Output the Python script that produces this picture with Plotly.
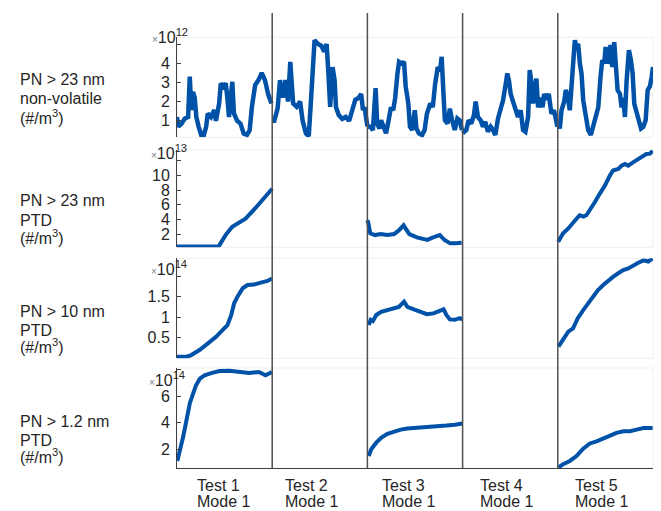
import plotly.graph_objects as go

# ---------------- data (fraction within test window, value) ----------------
tests = ["Test 1", "Test 2", "Test 3", "Test 4", "Test 5"]
modes = ["Mode 1", "Mode 1", "Mode 1", "Mode 1", "Mode 1"]
row_labels = [
    ["PN > 23 nm", "non-volatile", "(#/m<sup>3</sup>)"],
    ["PN > 23 nm", "PTD", "(#/m<sup>3</sup>)"],
    ["PN > 10 nm", "PTD", "(#/m<sup>3</sup>)"],
    ["PN > 1.2 nm", "PTD", "(#/m<sup>3</sup>)"],
]
exponents = ["12", "13", "14", "14"]

# Row 1: PN > 23 nm non-volatile (x1e12)
nv_t1_f = [0, 0.014, 0.048, 0.082, 0.117, 0.134, 0.151, 0.168, 0.186, 0.203, 0.227, 0.254, 0.282, 0.306, 0.323,
           0.357, 0.392, 0.409, 0.443, 0.46, 0.488, 0.512, 0.529, 0.546, 0.564, 0.581, 0.598, 0.632, 0.667, 0.701,
           0.735, 0.763, 0.787, 0.821, 0.856, 0.89, 0.924, 0.959, 0.993]
nv_t1_v = [1.2, 0.69, 0.85, 1.12, 1.2, 3.3, 1.56, 2.5, 2.2, 1.2, 0.7, 0.26, 0.26, 0.69, 1.38, 1.2, 1.56, 1.0,
           1.9, 2.95, 2.78, 2.95, 2.2, 1.2, 2.2, 3.03, 1.38, 1.0, 0.85, 0.33, 0.26, 0.5, 1.73, 2.86, 3.12, 3.5,
           3.12, 2.35, 1.9]
nv_t2_f = [0.004, 0.022, 0.057, 0.082, 0.11, 0.14, 0.166, 0.19, 0.22, 0.257, 0.293, 0.32, 0.355, 0.384, 0.409,
           0.445, 0.482, 0.518, 0.547, 0.572, 0.59, 0.609, 0.634, 0.656, 0.67, 0.699, 0.736, 0.772, 0.808, 0.837,
           0.873, 0.91, 0.935, 0.953, 0.971, 1.0]
nv_t2_v = [1.0, 1.0, 1.65, 3.12, 2.2, 3.12, 2.0, 4.07, 1.9, 1.73, 2.0, 1.0, 0.33, 0.2, 2.2, 5.2, 5.0, 4.9, 4.6,
           5.0, 3.5, 1.73, 3.8, 3.1, 1.7, 1.3, 1.1, 1.2, 1.0, 1.56, 2.1, 2.2, 2.4, 1.56, 1.7, 0.7]
nv_t3_f = [0.007, 0.031, 0.058, 0.086, 0.103, 0.127, 0.144, 0.168, 0.196, 0.223, 0.247, 0.271, 0.292, 0.316,
           0.333, 0.361, 0.385, 0.402, 0.43, 0.447, 0.471, 0.498, 0.515, 0.54, 0.574, 0.601, 0.625, 0.66, 0.687,
           0.711, 0.739, 0.763, 0.78, 0.797, 0.814, 0.842, 0.866, 0.89, 0.918, 0.945, 0.969, 0.993]
nv_t3_v = [0.69, 0.69, 0.52, 2.7, 0.86, 0.6, 1.03, 0.69, 0.35, 1.03, 1.7, 1.55, 2.2, 3.47, 4.07, 3.98, 4.07, 2.8,
           1.9, 0.69, 0.52, 1.55, 0.6, 0.35, 0.26, 0.52, 1.37, 1.9, 1.72, 2.9, 3.8, 3.6, 4.33, 2.6, 1.03, 0.86,
           1.63, 1.03, 0.52, 1.12, 1.03, 0.52]
nv_t4_f = [0.0, 0.039, 0.063, 0.091, 0.119, 0.137, 0.161, 0.189, 0.214, 0.238, 0.266, 0.295, 0.319, 0.344, 0.372,
           0.4, 0.425, 0.449, 0.47, 0.488, 0.505, 0.53, 0.554, 0.582, 0.61, 0.635, 0.66, 0.688, 0.705, 0.723, 0.74,
           0.758, 0.775, 0.793, 0.82, 0.84, 0.856, 0.88, 0.905, 0.933, 0.96, 0.996]
nv_t4_v = [0.35, 0.52, 1.03, 0.86, 1.29, 2.0, 1.2, 1.03, 0.69, 0.95, 0.43, 0.69, 0.52, 0.26, 1.12, 1.55, 2.07,
           2.8, 3.47, 3.05, 2.4, 2.0, 1.7, 1.2, 1.55, 0.52, 0.43, 1.2, 3.64, 3.0, 1.9, 2.8, 3.2, 1.7, 2.2, 1.7,
           2.4, 2.1, 2.4, 1.37, 1.55, 0.69]
nv_t5_f = [0.004, 0.021, 0.039, 0.067, 0.084, 0.1, 0.126, 0.144, 0.161, 0.179, 0.196, 0.214, 0.232, 0.249, 0.267,
           0.284, 0.302, 0.319, 0.347, 0.372, 0.396, 0.425, 0.449, 0.467, 0.488, 0.502, 0.52, 0.537, 0.554, 0.572,
           0.593, 0.61, 0.628, 0.653, 0.67, 0.688, 0.705, 0.723, 0.747, 0.768, 0.786, 0.803, 0.821, 0.846, 0.874,
           0.898, 0.923, 0.944, 0.968, 0.986, 1.0]
nv_t5_v = [0.95, 0.6, 1.55, 2.0, 2.6, 2.4, 1.55, 2.95, 4.16, 5.2, 4.85, 5.0, 3.98, 3.47, 2.07, 1.55, 0.86, 0.52,
           0.26, 0.69, 1.03, 1.7, 3.29, 4.16, 3.98, 4.85, 3.98, 4.33, 4.95, 3.8, 5.1, 3.98, 2.6, 2.4, 1.7, 2.2,
           1.2, 3.1, 4.68, 4.16, 3.47, 1.9, 1.55, 1.03, 0.6, 0.69, 1.03, 2.6, 2.8, 3.29, 3.8]

# Row 2: PN > 23 nm PTD (x1e13)
p23_t1_f = [0, 0.1, 0.2, 0.3, 0.44, 0.47, 0.51, 0.58, 0.65, 0.72, 0.82, 0.92, 0.99, 1.0]
p23_t1_v = [0.3, 0.3, 0.25, 0.3, 0.35, 1.0, 1.86, 3.0, 3.5, 4.1, 5.5, 7.05, 8.0, 8.2]
p23_t3_f = [0.0, 0.01, 0.03, 0.08, 0.14, 0.21, 0.28, 0.33, 0.38, 0.44, 0.52, 0.63, 0.69, 0.76, 0.81, 0.87, 0.93, 0.99]
p23_t3_v = [3.9, 3.5, 2.1, 1.86, 2.0, 1.86, 2.0, 2.5, 3.2, 2.0, 1.55, 1.2, 1.55, 1.86, 1.2, 0.73, 0.73, 0.8]
p23_t5_f = [0.004, 0.056, 0.11, 0.16, 0.196, 0.23, 0.27, 0.3, 0.337, 0.39, 0.44, 0.495, 0.547, 0.58, 0.635, 0.67,
            0.705, 0.74, 0.79, 0.846, 0.9, 0.93, 0.968, 0.997]
p23_t5_v = [0.95, 2.1, 2.77, 3.66, 4.1, 4.57, 4.4, 4.57, 5.25, 6.38, 7.5, 8.64, 10.0, 10.7, 10.9, 11.36, 11.6,
            11.36, 11.8, 12.27, 12.7, 12.95, 13.0, 13.4]

# Row 3: PN > 10 nm PTD (x1e14)
p10_t1_f = [0.0, 0.1, 0.15, 0.24, 0.325, 0.41, 0.48, 0.53, 0.57, 0.6, 0.635, 0.69, 0.74, 0.81, 0.88, 0.95, 0.998]
p10_t1_v = [0.02, 0.02, 0.06, 0.19, 0.35, 0.51, 0.68, 0.8, 1.05, 1.34, 1.5, 1.71, 1.79, 1.8, 1.85, 1.89, 1.95]
p10_t3_f = [0.014, 0.034, 0.058, 0.093, 0.144, 0.21, 0.28, 0.33, 0.385, 0.42, 0.488, 0.557, 0.625, 0.694, 0.746,
            0.8, 0.83, 0.866, 0.918, 0.97, 0.997]
p10_t3_v = [0.8, 0.93, 0.9, 1.05, 1.13, 1.17, 1.21, 1.25, 1.38, 1.25, 1.19, 1.13, 1.07, 1.09, 1.13, 1.19, 1.05,
            0.94, 0.93, 0.97, 0.94]
p10_t5_f = [0.007, 0.056, 0.11, 0.16, 0.21, 0.267, 0.32, 0.37, 0.42, 0.477, 0.53, 0.58, 0.635, 0.688, 0.74, 0.793,
            0.846, 0.9, 0.95, 0.996]
p10_t5_v = [0.27, 0.43, 0.64, 0.72, 0.97, 1.17, 1.34, 1.5, 1.66, 1.79, 1.91, 1.99, 2.08, 2.16, 2.2, 2.28, 2.34,
            2.4, 2.37, 2.45]

# Row 4: PN > 1.2 nm PTD (x1e14)
p12_t1_f = [0.003, 0.03, 0.066, 0.1, 0.135, 0.17, 0.2, 0.24, 0.29, 0.36, 0.445, 0.55, 0.65, 0.757, 0.86, 0.93, 0.998]
p12_t1_v = [1.13, 1.87, 2.98, 4.2, 5.46, 6.2, 6.8, 7.3, 7.55, 7.72, 7.87, 7.9, 7.8, 7.72, 7.8, 7.55, 7.8]
p12_t3_f = [0.014, 0.04, 0.093, 0.144, 0.21, 0.28, 0.35, 0.42, 0.52, 0.625, 0.73, 0.83, 0.918, 0.997]
p12_t3_v = [1.5, 2.0, 2.5, 2.87, 3.16, 3.36, 3.48, 3.56, 3.6, 3.63, 3.73, 3.78, 3.85, 3.93]
p12_t5_f = [0.007, 0.056, 0.126, 0.196, 0.267, 0.337, 0.407, 0.477, 0.547, 0.617, 0.688, 0.758, 0.828, 0.9, 0.996]
p12_t5_v = [0.64, 0.89, 1.13, 1.5, 2.05, 2.44, 2.6, 2.8, 3.04, 3.24, 3.36, 3.36, 3.48, 3.6, 3.6]

row_series = [
    [(0, nv_t1_f, nv_t1_v), (1, nv_t2_f, nv_t2_v), (2, nv_t3_f, nv_t3_v), (3, nv_t4_f, nv_t4_v), (4, nv_t5_f, nv_t5_v)],
    [(0, p23_t1_f, p23_t1_v), (2, p23_t3_f, p23_t3_v), (4, p23_t5_f, p23_t5_v)],
    [(0, p10_t1_f, p10_t1_v), (2, p10_t3_f, p10_t3_v), (4, p10_t5_f, p10_t5_v)],
    [(0, p12_t1_f, p12_t1_v), (2, p12_t3_f, p12_t3_v), (4, p12_t5_f, p12_t5_v)],
]
y_ranges = [[0.14, 5.35], [0.19, 13.5], [-0.02, 2.45], [0.6, 8.1]]
y_tickvals = [[1, 2, 3, 4, 5], [2, 4, 6, 8, 10, 12], [0.5, 1, 1.5, 2], [2, 4, 6, 8]]
y_ticktext = [["1", "2", "3", "4", ""], ["2", "4", "6", "8", "10", ""], ["0.5", "1", "1.5", ""], ["2", "4", "6", ""]]

# ---------------- layout geometry (pixels) ----------------
W, H = 661, 511
PL, PR, PT, PB = 177, 653, 37, 468
BLUE = "#0052a8"
TXT = "#262626"
FONT = "Liberation Sans, Arial, sans-serif"
FS = 16
row_line_width = [4.5, 4, 4, 4]


def pyp(p):
    return (PB - p) / (PB - PT)


def pxp(p):
    return (p - PL) / (PR - PL)


row_px = [(37.3, 137.3), (150, 247.3), (258.3, 358.3), (368, 468)]

fig = go.Figure()
for r, series in enumerate(row_series):
    ax = "" if r == 0 else str(r + 1)
    for (ti, fr, vals) in series:
        fig.add_trace(go.Scatter(
            x=[ti + f for f in fr], y=vals, mode="lines",
            line=dict(color=BLUE, width=row_line_width[r]), xaxis="x" + ax, yaxis="y" + ax,
            showlegend=False, hoverinfo="skip"))

layout = dict(
    width=W, height=H, paper_bgcolor="white", plot_bgcolor="white",
    margin=dict(l=PL, r=W - PR, t=PT, b=H - PB, autoexpand=False),
    font=dict(family=FONT, color=TXT, size=FS),
)
shapes = []
annotations = []
for r in range(4):
    ax = "" if r == 0 else str(r + 1)
    top, bot = row_px[r]
    layout["xaxis" + ax] = dict(
        domain=[0, 1], range=[0, 5], anchor="y" + ax, showticklabels=False, ticks="",
        showgrid=False, zeroline=False, automargin=False,
        showline=(r == 3), linecolor="#404040", linewidth=1)
    layout["yaxis" + ax] = dict(
        domain=[max(0, pyp(bot)), min(1, pyp(top))], range=y_ranges[r], anchor="x" + ax,
        tickvals=y_tickvals[r], ticktext=y_ticktext[r], ticks="inside", ticklen=4,
        tickcolor="#404040", showgrid=False, zeroline=False, showline=True, automargin=False,
        linecolor="#404040", linewidth=1, tickfont=dict(size=FS, color=TXT, family=FONT),
        ticklabelstandoff=3)
    # faint axes box
    shapes.append(dict(type="rect", xref="paper", yref="paper", x0=0, x1=1,
                       y0=max(0, pyp(bot)), y1=min(1, pyp(top)),
                       line=dict(color="#efefef", width=1), layer="below"))

# exponent labels
exp_pos = [(150, 36), (149, 152), (149, 268), (147, 379)]
for r in range(4):
    xp, yp = exp_pos[r]
    annotations.append(dict(
        xref="paper", yref="paper", x=pxp(xp), y=pyp(yp), xanchor="left", yanchor="middle",
        showarrow=False,
        text="<span style='font-size:10px;color:#808080'>×</span>10<sup>" + exponents[r] + "</sup>",
        font=dict(size=FS, color=TXT, family=FONT)))

# row labels
row_line_y = [(79, 98, 117), (200, 220, 237), (311, 330, 346), (421, 440, 456)]
for r in range(4):
    for k in range(3):
        annotations.append(dict(
            xref="paper", yref="paper", x=pxp(18), y=pyp(row_line_y[r][k]), xanchor="left",
            yanchor="middle", showarrow=False, text=row_labels[r][k],
            font=dict(size=FS, color=TXT, family=FONT)))

# test labels
test_left = [195, 283, 380, 478, 573]
for i in range(5):
    annotations.append(dict(xref="paper", yref="paper", x=pxp(test_left[i]), y=pyp(485),
                            xanchor="left", yanchor="middle", showarrow=False, text=tests[i],
                            font=dict(size=FS, color=TXT, family=FONT)))
    annotations.append(dict(xref="paper", yref="paper", x=pxp(test_left[i]), y=pyp(502),
                            xanchor="left", yanchor="middle", showarrow=False, text=modes[i],
                            font=dict(size=FS, color=TXT, family=FONT)))

# vertical separators between tests
for k in range(1, 5):
    shapes.append(dict(type="line", xref="x4", yref="paper", x0=k, x1=k, y0=0, y1=pyp(13),
                       line=dict(color="#505050", width=1.5)))

layout["shapes"] = shapes
layout["annotations"] = annotations
fig.update_layout(**layout)
fig.write_html("out.html", config={"displayModeBar": False},
               post_script="document.body.style.margin='0px';document.body.style.overflow='hidden';")
